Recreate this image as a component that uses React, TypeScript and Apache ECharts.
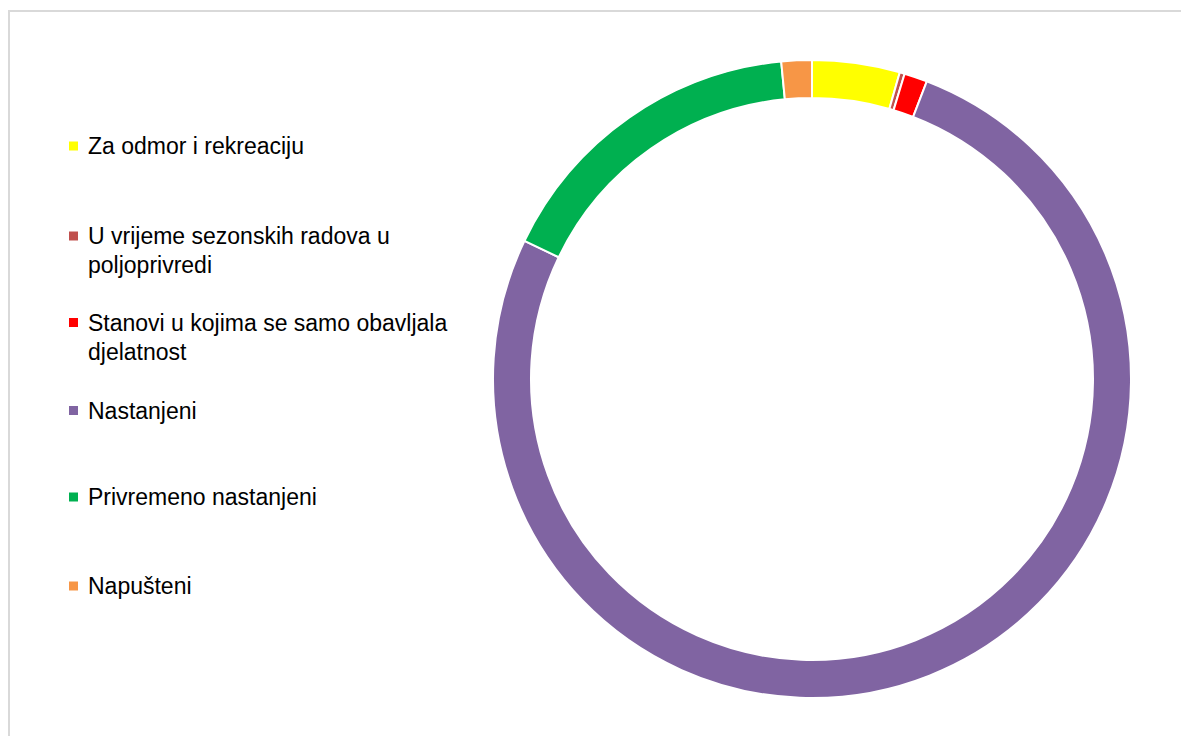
import React, { useEffect, useRef } from "react";
import * as echarts from "echarts";

const categories = [
  "Za odmor i rekreaciju",
  "U vrijeme sezonskih radova u poljoprivredi",
  "Stanovi u kojima se samo obavljala djelatnost",
  "Nastanjeni",
  "Privremeno nastanjeni",
  "Napušteni",
];
const legendLines = [
  ["Za odmor i rekreaciju"],
  ["U vrijeme sezonskih radova u", "poljoprivredi"],
  ["Stanovi u kojima se samo obavljala", "djelatnost"],
  ["Nastanjeni"],
  ["Privremeno nastanjeni"],
  ["Napušteni"],
];
const values = [4.44, 0.25, 1.17, 76.28, 16.33, 1.54];
const colors = ["#FFFF00", "#C0504D", "#FF0000", "#8064A2", "#00B050", "#F79646"];
const legendCenters = [146, 236, 322.5, 410.5, 497, 586];

export default function App() {
  const ref = useRef<HTMLDivElement>(null);
  useEffect(() => {
    if (!ref.current) return;
    const chart = echarts.init(ref.current, null, { renderer: "svg" });
    const font = "'Liberation Sans', Arial, sans-serif";
    const lh = 29;
    const legends = categories.map((name, i) => {
      const lines = legendLines[i];
      const multi = lines.length > 1;
      // multi-line: prepend an empty line so the first real line sits level with the icon
      const text = multi ? "\n" + lines.join("\n") : lines[0];
      const halfBox = multi ? (lh * 3) / 2 : lh / 2;
      return {
        show: true,
        orient: "vertical",
        left: 67,
        top: legendCenters[i] - halfBox,
        padding: 0,
        icon: "rect",
        itemWidth: 11,
        itemHeight: 11,
        selectedMode: false,
        data: [name],
        formatter: () => text,
        textStyle: {
          fontFamily: font,
          fontSize: 23,
          color: "#000000",
          lineHeight: lh,
          padding: [0, 0, 0, 4],
        },
      };
    });
    chart.setOption({
      animation: false,
      backgroundColor: "#ffffff",
      color: colors,
      legend: legends,
      graphic: [
        {
          type: "rect",
          shape: { x: 9, y: 11, width: 1400, height: 1000 },
          style: { fill: "none", stroke: "#d9d9d9", lineWidth: 2 },
          silent: true,
        },
      ],
      series: [
        {
          type: "pie",
          center: [812, 379],
          radius: [281, 319],
          startAngle: 90,
          clockwise: true,
          avoidLabelOverlap: false,
          label: { show: false },
          labelLine: { show: false },
          emphasis: { disabled: true },
          itemStyle: { borderColor: "#ffffff", borderWidth: 2 },
          data: categories.map((name, i) => ({
            name,
            value: values[i],
            itemStyle: { color: colors[i] },
          })),
        },
      ],
    });
    return () => chart.dispose();
  }, []);
  return (
    <div
      ref={ref}
      style={{ position: "absolute", left: 0, top: 0, width: 1181, height: 736 }}
    />
  );
}
